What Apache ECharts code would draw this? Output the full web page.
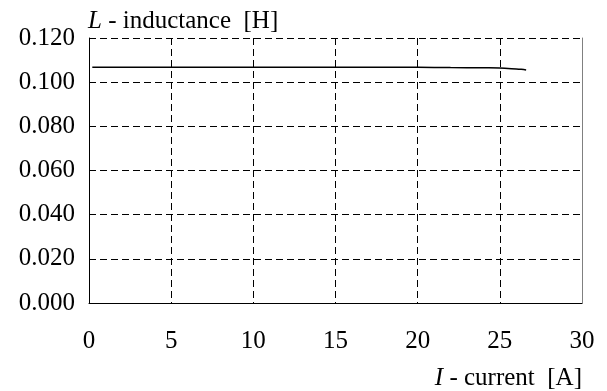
<!DOCTYPE html>
<html>
<head>
<meta charset="utf-8">
<script src="https://cdn.jsdelivr.net/npm/echarts@6/dist/echarts.min.js"></script>
<style>
  html, body { margin: 0; padding: 0; background: #fff; }
  #chart { width: 607px; height: 391px; }
</style>
</head>
<body>
<div id="chart"></div>
<script>
// current I [A] and inductance L [H]
const currentA = [0.2, 5, 10, 15, 20, 22, 24, 25, 25.5, 26, 26.3, 26.6]
const inductanceH = [0.1068, 0.1068, 0.1068, 0.1068, 0.1067, 0.1066, 0.1065, 0.1064, 0.1062, 0.1060, 0.1058, 0.1055]

const font = '"Liberation Serif", "Times New Roman", serif'
const chart = echarts.init(document.getElementById('chart'))

const option = {
  animation: false,
  grid: { left: 89, right: 25, top: 38, bottom: 88 },
  xAxis: {
    type: 'value',
    min: 0,
    max: 30,
    interval: 5,
    axisLine: { show: true, lineStyle: { color: '#000', width: 1 } },
    axisTick: { show: false },
    axisLabel: { color: '#000', fontFamily: font, fontSize: 25, margin: 26 },
    splitLine: { show: true, lineStyle: { color: '#000', type: [7, 4], width: 1 } }
  },
  yAxis: [
    {
      type: 'value',
      min: 0,
      max: 0.12,
      interval: 0.02,
      axisLine: { show: true, lineStyle: { color: '#000', width: 1 } },
      axisTick: { show: false },
      axisLabel: {
        color: '#000', fontFamily: font, fontSize: 25, margin: 14,
        formatter: v => v.toFixed(3)
      },
      splitLine: { show: true, lineStyle: { color: '#000', type: [7, 4], width: 1 } }
    },
    {
      type: 'value',
      position: 'right',
      min: 0,
      max: 0.12,
      axisLine: { show: true, lineStyle: { color: '#808080', width: 1 } },
      axisTick: { show: false },
      axisLabel: { show: false },
      splitLine: { show: false }
    }
  ],
  series: [
    {
      type: 'line',
      data: currentA.map((x, i) => [x, inductanceH[i]]),
      smooth: true,
      showSymbol: false,
      lineStyle: { color: '#000', width: 1.5 }
    }
  ],
  graphic: [
    {
      type: 'text',
      left: 88,
      top: 9,
      style: {
        text: '{i|L} - inductance  [H]',
        font: '25px ' + font,
        fill: '#000',
        rich: {
          i: { fontStyle: 'italic', fontFamily: font, fontSize: 25, fill: '#000' }
        }
      }
    },
    {
      type: 'text',
      right: 25,
      top: 366,
      style: {
        text: '{i|I} - current  [A]',
        font: '25px ' + font,
        fill: '#000',
        rich: {
          i: { fontStyle: 'italic', fontFamily: font, fontSize: 25, fill: '#000' }
        }
      }
    }
  ]
}

chart.setOption(option)
</script>
</body>
</html>
